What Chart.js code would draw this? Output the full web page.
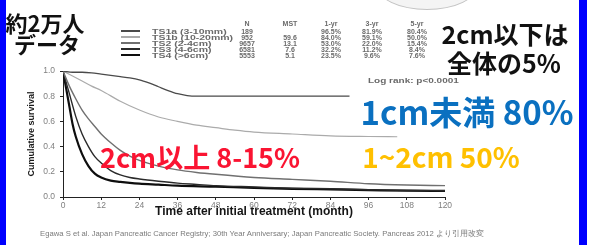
<!DOCTYPE html>
<html><head><meta charset="utf-8">
<script src="https://cdn.jsdelivr.net/npm/chart.js@4.4.0/dist/chart.umd.min.js"></script>
<style>
html,body{margin:0;padding:0;background:#fff;}
#wrap{position:relative;width:590px;height:245px;overflow:hidden;background:#fff;font-family:"Liberation Sans",Arial,sans-serif;}
#c{position:absolute;left:0;top:0;}
.a{position:absolute;white-space:nowrap;line-height:1;transform:translate(-50%,-50%);}
.jp{font-family:"Noto Sans CJK JP",sans-serif;font-weight:700;}
.lg{position:absolute;white-space:nowrap;line-height:1;font-size:7px;font-weight:700;color:#6a6a6a;}
.sw{position:absolute;left:121px;width:19px;}
</style></head>
<body><div id="wrap">
<canvas id="c" width="590" height="245"></canvas>
<div style="position:absolute;left:0;top:0;width:6px;height:245px;background:#0000ff"></div>
<div style="position:absolute;left:579px;top:0;width:8px;height:245px;background:#0000ff"></div>
<div style="position:absolute;left:376px;top:-40px;width:100px;height:48px;border:1px solid #c4c4c4;border-radius:50%;background:#f4f4f4"></div>
<div id="ov"></div>
</div>
<script>
// ---- data ----
const seriesNames = ["TS1a (3-10mm)","TS1b (10-20mm)","TS2 (2-4cm)","TS3 (4-6cm)","TS4 (>6cm)"];
const nValues   = ["189","952","9657","6581","5553"];
const mstValues = ["","59.6","13.1","7.6","5.1"];
const yr1Values = ["96.5%","84.0%","53.0%","32.2%","23.5%"];
const yr3Values = ["81.9%","59.1%","22.0%","11.2%","9.6%"];
const yr5Values = ["80.4%","50.0%","15.4%","8.4%","7.6%"];
const tableHeaders = ["N","MST","1-yr","3-yr","5-yr"];

const monthsTS1a = [0,3,6,9,12,15,18,21,24,27,30,33,36,39,42,48,60,72,84,90];
const survTS1a   = [1.0,0.99,0.99,0.985,0.975,0.965,0.955,0.945,0.93,0.905,0.875,0.845,0.82,0.805,0.80,0.80,0.80,0.80,0.80,0.80];
const monthsTS1b = [0,3,6,9,12,18,24,30,36,42,48,54,60,72,84,96,105];
const survTS1b   = [1.0,0.96,0.92,0.88,0.845,0.76,0.69,0.635,0.60,0.57,0.55,0.53,0.515,0.50,0.485,0.48,0.478];
const monthsTS2  = [0,2,4,6,8,10,12,15,18,21,24,30,36,42,48,60,72,84,96,108,120];
const survTS2    = [1.0,0.88,0.78,0.69,0.62,0.56,0.50,0.43,0.37,0.325,0.29,0.245,0.215,0.195,0.18,0.155,0.14,0.125,0.105,0.095,0.09];
const monthsTS3  = [0,2,4,6,8,10,12,15,18,21,24,30,36,42,48,60,72,84,96,108,120];
const survTS3    = [1.0,0.82,0.64,0.50,0.40,0.32,0.27,0.21,0.175,0.155,0.143,0.125,0.11,0.10,0.09,0.08,0.07,0.065,0.058,0.052,0.05];
const monthsTS4  = [0,2,3,4,6,8,10,12,15,18,21,24,30,36,48,60,72,84,96,108,120];
const survTS4    = [1.0,0.72,0.58,0.48,0.34,0.245,0.185,0.155,0.13,0.12,0.112,0.106,0.098,0.09,0.082,0.072,0.065,0.06,0.055,0.05,0.048];

const xTicksStep = 12;
const yTicksStep = 0.1;
const xTitle = "Time after initial treatment (month)";
const yTitle = "Cumulative survival";
const logRank = "Log rank: p<0.0001";
const footer = "Egawa S et al. Japan Pancreatic Cancer Registry; 30th Year Anniversary; Japan Pancreatic Society. Pancreas 2012 より引用改変";

const lineColors = ["#4a4a4a","#ababab","#707070","#2a2a2a","#0e0e0e"];
const lineWidths = [1.3,1.2,1.4,1.4,2.2];

const allMonths = [monthsTS1a,monthsTS1b,monthsTS2,monthsTS3,monthsTS4];
const allSurv = [survTS1a,survTS1b,survTS2,survTS3,survTS4];

const datasets = seriesNames.map((n,i)=>({
  label:n,
  data: allMonths[i].map((t,j)=>({x:t,y:allSurv[i][j]})),
  borderColor:lineColors[i], borderWidth:lineWidths[i],
  pointRadius:0, fill:false, cubicInterpolationMode:'monotone'
}));

new Chart(document.getElementById('c'), {
  type:'line',
  data:{datasets},
  options:{
    responsive:false, animation:false, events:[],
    layout:{padding:{left:20,right:145,top:71,bottom:26}},
    plugins:{legend:{display:false},tooltip:{enabled:false}},
    scales:{
      x:{type:'linear',min:0,max:120,
        ticks:{stepSize:xTicksStep,color:'#808080',font:{family:'Liberation Sans',size:8.5},padding:1,maxRotation:0,autoSkip:false},
        grid:{display:true,drawOnChartArea:false,drawTicks:true,tickLength:3,color:'#222',lineWidth:1},
        border:{display:true,color:'#222',width:1},
        title:{display:true,text:xTitle,color:'#151515',font:{family:'Liberation Sans',size:12,weight:'bold'},padding:{top:0,bottom:0}},
        afterFit(s){s.height=22;}
      },
      y:{type:'linear',min:0,max:1,
        ticks:{stepSize:yTicksStep,color:'#808080',font:{family:'Liberation Sans',size:8.5},padding:5,callback:v=>v.toFixed(1)},
        grid:{display:true,drawOnChartArea:false,drawTicks:true,tickLength:3,color:'#222',lineWidth:1},
        border:{display:true,color:'#222',width:1},
        title:{display:true,text:yTitle,color:'#1a1a1a',font:{family:'Liberation Sans',size:9,weight:'bold'},padding:{top:6,bottom:0}},
        afterFit(s){s.width=43;}
      }
    }
  }
});

// ---- overlay text ----
const ov = document.getElementById('ov');
function add(html){ ov.insertAdjacentHTML('beforeend', html); }
function txt(cls, x, y, size, color, s){
  add(`<div class="a ${cls}" style="left:${x}px;top:${y}px;font-size:${size}px;color:${color}">${s}</div>`);
}
// legend table
const rowY = [31,37,43,49,55];
const headY = 23;
const colX = [247,290,331,372,417];
tableHeaders.forEach((h,i)=>add(`<div class="lg" style="left:${colX[i]}px;top:${headY}px;transform:translate(-50%,-50%)">${h}</div>`));
seriesNames.forEach((n,i)=>{
  const y=rowY[i];
  add(`<div class="sw" style="top:${y-lineWidths[i]/2}px;height:${lineWidths[i]}px;background:${lineColors[i]}"></div>`);
  add(`<div class="lg" style="left:152px;top:${y}px;transform-origin:0 50%;transform:translate(0,-50%) scaleX(1.5)">${n.replace('>','&gt;')}</div>`);
  const vals=[nValues[i],mstValues[i],yr1Values[i],yr3Values[i],yr5Values[i]];
  vals.forEach((v,k)=>add(`<div class="lg" style="left:${colX[k]}px;top:${y}px;transform:translate(-50%,-50%)">${v}</div>`));
});
add(`<div class="lg" style="left:368px;top:81px;transform-origin:0 50%;transform:translate(0,-50%) scaleX(1.25);font-size:8px">${logRank}</div>`);
add(`<div class="a" style="left:262px;top:234px;font-size:7.7px;color:#7a7a7a">${footer}</div>`);

txt('jp',45,22,22,'#111','約2万人');
txt('jp',47,43,22,'#111','データ');
txt('jp',505,33,25,'#111','2cm以下は');
txt('jp',504,62,25,'#111','全体の5%');
txt('jp',467,111,33,'#0a70c0','1cm未満 80%');
txt('jp',441,156,28,'#ffc000','1~2cm 50%');
txt('jp',200,156,27,'#fa1432','2cm以上 8-15%');
</script>
</body></html>
